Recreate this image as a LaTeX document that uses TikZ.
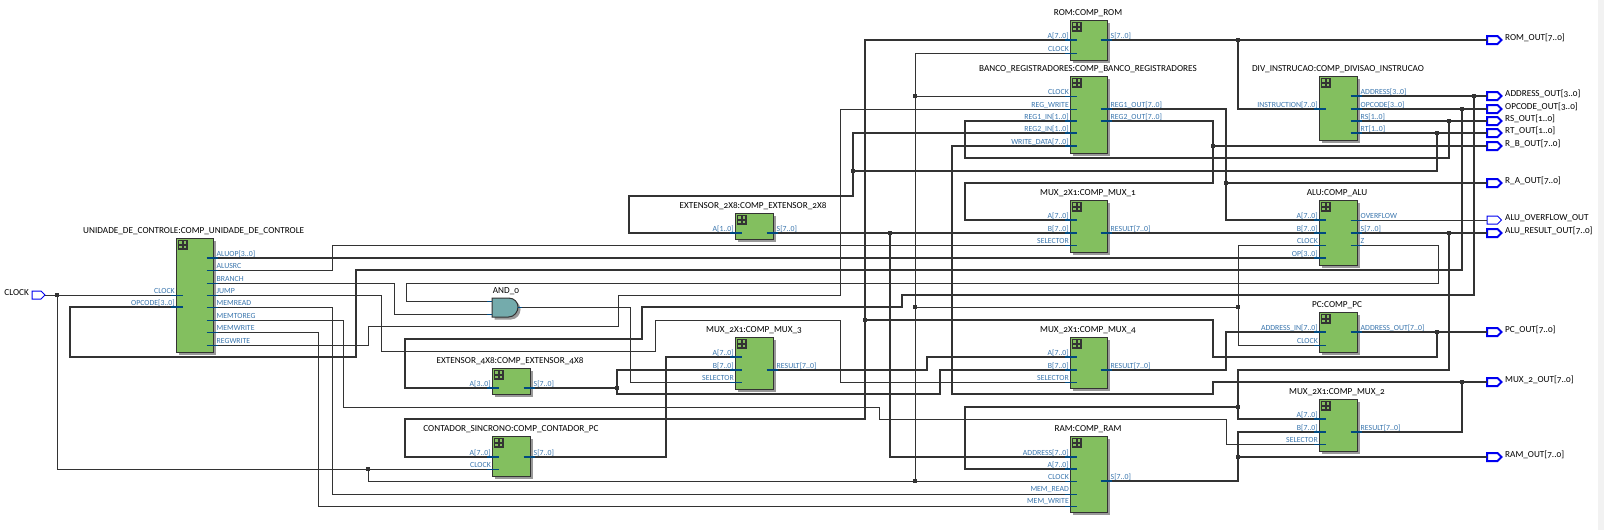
\documentclass[tikz,border=0pt]{standalone}
\usepackage{fontspec}
\setmainfont{Carlito}
\newfontfamily\ttlfont[Numbers=OldStyle]{Carlito}
\definecolor{wirec}{HTML}{333333}
\definecolor{blockg}{HTML}{83BF5F}
\definecolor{pinc}{HTML}{00497F}
\definecolor{labc}{HTML}{3A76AE}
\definecolor{iob}{HTML}{0000F0}
\definecolor{gatec}{HTML}{74ABAC}
\tikzset{
  wa/.style={draw=wirec,line width=1pt},
  wb/.style={draw=wirec,line width=2pt},
  pina/.style={draw=pinc,line width=1pt},
  pinb/.style={draw=pinc,line width=2pt},
  blockbox/.style={draw=wirec,line width=1pt,fill=blockg,inner sep=0pt,outer sep=0pt},
  shadowbox/.style={fill=black!40,draw=none},
  titlelab/.style={font=\ttlfont\fontsize{9.2}{10}\selectfont,text=black,inner sep=0pt},
  pinlab/.style={font=\fontsize{7.8}{9}\selectfont,text=labc,inner sep=0pt},
  dotj/.style={fill=wirec,draw=none,inner sep=0pt,minimum size=3.4pt,rectangle},
  dotk/.style={fill=wirec,draw=none,inner sep=0pt,minimum size=4.4pt,rectangle},
}
% name x0 y0 x1 y1 title tx ty
\newcommand{\blk}[8]{%
  \fill[shadowbox] (#2+2.5,#3+2.5) rectangle (#4+2.5,#5+2.5);
  \node[blockbox,minimum width={(#4-(#2))*1pt},minimum height={(#5-(#3))*1pt}] (#1) at ({(#2+#4)/2},{(#3+#5)/2}) {};
  \fill[wirec] (#2+2,#3+2) rectangle (#2+11.5,#3+11.5);
  \fill[blockg] (#2+3.2,#3+3.2) rectangle (#2+6,#3+6);
  \fill[blockg] (#2+7.5,#3+3.2) rectangle (#2+10.3,#3+6);
  \fill[blockg] (#2+3.2,#3+7.5) rectangle (#2+6,#3+10.3);
  \fill[blockg] (#2+7.5,#3+7.5) rectangle (#2+10.3,#3+10.3);
  \node[titlelab] (#1-t) at (#7,#8) {#6};
}
% style coord x0 y label : left pin
\newcommand{\lp}[5]{%
  \draw[#1] (#3-5,#4) -- (#3+6.5,#4);
  \coordinate (#2) at (#3-5,#4);
  \node[pinlab,anchor=east] (#2-l) at (#3-1,#4-4) {#5};
}
% right pin
\newcommand{\rp}[5]{%
  \draw[#1] (#3-6.5,#4) -- (#3+5,#4);
  \coordinate (#2) at (#3+5,#4);
  \node[pinlab,anchor=west] (#2-l) at (#3+3.5,#4-4) {#5};
}
% output port: style coord y label
\newcommand{\outp}[4]{%
  \draw[draw=iob,line width=#1,fill=white,line join=miter] (1487,#3-4) -- (1497.5,#3-4) -- (1501.5,#3) -- (1497.5,#3+4) -- (1487,#3+4) -- cycle;
  \coordinate (#2) at (1487,#3);
  \node[titlelab,anchor=west] (#2-l) at (1505,#3-2) {#4};
}
\begin{document}
\begin{tikzpicture}[x=1pt,y=-1pt]
\useasboundingbox (0,0) rectangle (1604,530);
\fill[white] (0,0) rectangle (1604,530);
\fill[black!5] (1598,0) rectangle (1604,530);

% ===== blocks =====
\blk{uc}{176}{238}{213}{352}{UNIDADE\_DE\_CONTROLE:COMP\_UNIDADE\_DE\_CONTROLE}{193.7}{231}
\lp{pina}{ucCLK}{176}{295}{CLOCK}
\lp{pinb}{ucOP}{176}{307}{OPCODE[3..0]}
\rp{pinb}{ucALUOP}{213}{258}{ALUOP[3..0]}
\rp{pina}{ucSRC}{213}{270}{ALUSRC}
\rp{pina}{ucBR}{213}{283}{BRANCH}
\rp{pina}{ucJ}{213}{295}{JUMP}
\rp{pina}{ucMR}{213}{307}{MEMREAD}
\rp{pina}{ucMT}{213}{320}{MEMTOREG}
\rp{pina}{ucMW}{213}{332}{MEMWRITE}
\rp{pina}{ucRW}{213}{345}{REGWRITE}

\blk{ext4}{492}{368}{530}{394}{EXTENSOR\_4X8:COMP\_EXTENSOR\_4X8}{510}{361}
\lp{pinb}{ext4A}{492}{388}{A[3..0]}
\rp{pinb}{ext4S}{530}{388}{S[7..0]}

\blk{cnt}{492}{436}{530}{476}{CONTADOR\_SINCRONO:COMP\_CONTADOR\_PC}{511}{429}
\lp{pinb}{cntA}{492}{457}{A[7..0]}
\lp{pina}{cntC}{492}{469}{CLOCK}
\rp{pinb}{cntS}{530}{457}{S[7..0]}

\blk{ext2}{735}{213}{773}{239}{EXTENSOR\_2X8:COMP\_EXTENSOR\_2X8}{753}{206}
\lp{pinb}{ext2A}{735}{233}{A[1..0]}
\rp{pinb}{ext2S}{773}{233}{S[7..0]}

\blk{mux3}{735}{337}{773}{389}{MUX\_2X1:COMP\_MUX\_3}{754}{330}
\lp{pinb}{m3A}{735}{357}{A[7..0]}
\lp{pinb}{m3B}{735}{370}{B[7..0]}
\lp{pina}{m3S}{735}{382}{SELECTOR}
\rp{pinb}{m3R}{773}{370}{RESULT[7..0]}

\blk{rom}{1070}{20}{1107}{60}{ROM:COMP\_ROM}{1088}{13}
\lp{pinb}{romA}{1070}{40}{A[7..0]}
\lp{pina}{romC}{1070}{53}{CLOCK}
\rp{pinb}{romS}{1107}{40}{S[7..0]}

\blk{banco}{1070}{76}{1107}{153}{BANCO\_REGISTRADORES:COMP\_BANCO\_REGISTRADORES}{1088}{69}
\lp{pina}{bC}{1070}{96}{CLOCK}
\lp{pina}{bW}{1070}{109}{REG\_WRITE}
\lp{pinb}{bR1}{1070}{121}{REG1\_IN[1..0]}
\lp{pinb}{bR2}{1070}{133}{REG2\_IN[1..0]}
\lp{pinb}{bD}{1070}{146}{WRITE\_DATA[7..0]}
\rp{pinb}{bO1}{1107}{109}{REG1\_OUT[7..0]}
\rp{pinb}{bO2}{1107}{121}{REG2\_OUT[7..0]}

\blk{mux1}{1070}{200}{1107}{252}{MUX\_2X1:COMP\_MUX\_1}{1088}{193}
\lp{pinb}{m1A}{1070}{220}{A[7..0]}
\lp{pinb}{m1B}{1070}{233}{B[7..0]}
\lp{pina}{m1S}{1070}{245}{SELECTOR}
\rp{pinb}{m1R}{1107}{233}{RESULT[7..0]}

\blk{mux4}{1070}{337}{1107}{388}{MUX\_2X1:COMP\_MUX\_4}{1088}{330}
\lp{pinb}{m4A}{1070}{357}{A[7..0]}
\lp{pinb}{m4B}{1070}{370}{B[7..0]}
\lp{pina}{m4S}{1070}{382}{SELECTOR}
\rp{pinb}{m4R}{1107}{370}{RESULT[7..0]}

\blk{ram}{1070}{436}{1107}{512}{RAM:COMP\_RAM}{1088}{429}
\lp{pinb}{rAD}{1070}{457}{ADDRESS[7..0]}
\lp{pinb}{rA}{1070}{469}{A[7..0]}
\lp{pina}{rC}{1070}{481}{CLOCK}
\lp{pina}{rMR}{1070}{494}{MEM\_READ}
\lp{pina}{rMW}{1070}{506}{MEM\_WRITE}
\rp{pinb}{rS}{1107}{481}{S[7..0]}

\blk{div}{1319}{76}{1357}{140}{DIV\_INSTRUCAO:COMP\_DIVISAO\_INSTRUCAO}{1338}{69}
\lp{pinb}{dI}{1319}{109}{INSTRUCTION[7..0]}
\rp{pinb}{dA}{1357}{96}{ADDRESS[3..0]}
\rp{pinb}{dO}{1357}{109}{OPCODE[3..0]}
\rp{pinb}{dRS}{1357}{121}{RS[1..0]}
\rp{pinb}{dRT}{1357}{133}{RT[1..0]}

\blk{alu}{1319}{200}{1357}{265}{ALU:COMP\_ALU}{1337}{193}
\lp{pinb}{aA}{1319}{220}{A[7..0]}
\lp{pinb}{aB}{1319}{233}{B[7..0]}
\lp{pina}{aC}{1319}{245}{CLOCK}
\lp{pinb}{aOP}{1319}{258}{OP[3..0]}
\rp{pina}{aOV}{1357}{220}{OVERFLOW}
\rp{pinb}{aS}{1357}{233}{S[7..0]}
\rp{pina}{aZ}{1357}{245}{Z}

\blk{pc}{1319}{312}{1357}{352}{PC:COMP\_PC}{1337}{305}
\lp{pinb}{pI}{1319}{332}{ADDRESS\_IN[7..0]}
\lp{pina}{pC}{1319}{345}{CLOCK}
\rp{pinb}{pO}{1357}{332}{ADDRESS\_OUT[7..0]}

\blk{mux2}{1319}{399}{1357}{451}{MUX\_2X1:COMP\_MUX\_2}{1337}{392}
\lp{pinb}{m2A}{1319}{419}{A[7..0]}
\lp{pinb}{m2B}{1319}{432}{B[7..0]}
\lp{pina}{m2S}{1319}{444}{SELECTOR}
\rp{pinb}{m2R}{1357}{432}{RESULT[7..0]}

% ===== AND gate =====
\fill[shadowbox] (494.5,300.5) -- (511,300.5) .. controls (517,300.5) and (520.5,305) .. (520.5,309.5) .. controls (520.5,314) and (517,319.5) .. (511,319.5) -- (494.5,319.5) -- cycle;
\draw[wirec,line width=1pt,fill=gatec] (492,298) -- (508.5,298) .. controls (514.5,298) and (518,302.5) .. (518,307) .. controls (518,311.5) and (514.5,317) .. (508.5,317) -- (492,317) -- cycle;
\node[titlelab] (and-t) at (506,291) {AND\_0};
\draw[pina] (487,301) -- (492,301);
\draw[pina] (487,314) -- (492,314);
\draw[pina] (518,307) -- (522,307);
\coordinate (andA) at (487,301);
\coordinate (andB) at (487,314);
\coordinate (andO) at (522,307);

% ===== ports =====
\draw[draw=iob,line width=1pt,fill=white] (32,291) -- (41,291) -- (45,295) -- (41,299) -- (32,299) -- cycle;
\coordinate (clkin) at (45,295);
\node[titlelab,anchor=east] (clk-l) at (29,293) {CLOCK};
\outp{2pt}{oROM}{40}{ROM\_OUT[7..0]}
\outp{2pt}{oADR}{96}{ADDRESS\_OUT[3..0]}
\outp{2pt}{oOP}{109}{OPCODE\_OUT[3..0]}
\outp{2pt}{oRS}{121}{RS\_OUT[1..0]}
\outp{2pt}{oRT}{133}{RT\_OUT[1..0]}
\outp{2pt}{oRB}{146}{R\_B\_OUT[7..0]}
\outp{2pt}{oRA}{183}{R\_A\_OUT[7..0]}
\outp{1pt}{oOV}{220}{ALU\_OVERFLOW\_OUT}
\outp{2pt}{oAR}{233}{ALU\_RESULT\_OUT[7..0]}
\outp{2pt}{oPC}{332}{PC\_OUT[7..0]}
\outp{2pt}{oM2}{382}{MUX\_2\_OUT[7..0]}
\outp{2pt}{oRAM}{457}{RAM\_OUT[7..0]}

% ===== thin wires =====
\draw[wa] (clkin) -- (ucCLK);
\node[dotj] (j1) at (57,295) {};
\draw[wa] (j1) -- (57,469) -- (cntC);
\node[dotj] (j2) at (368,469) {};
\draw[wa] (j2) -- (368,481) -- (rC);
\node[dotj] (j3) at (915,481) {};
\draw[wa] (j3) -- (915,53) -- (romC);
\node[dotj] (j4) at (915,96) {};
\draw[wa] (j4) -- (bC);
\node[dotj] (j5) at (915,307) {};
\node[dotj] (j6) at (1238,307) {};
\draw[wa] (j5) -- (j6);
\draw[wa] (aC) -- (1238,245) -- (1238,345) -- (pC);
\draw[wa] (ucSRC) -- (332,270) -- (332,245) -- (m1S);
\draw[wa] (ucBR) -- (394,283) -- (394,314) -- (andB);
\draw[wa] (aZ) -- (1438,245) -- (1438,283) -- (406,283) -- (406,301) -- (andA);
\draw[wa] (ucJ) -- (381,295) -- (381,351) -- (655,351) -- (655,320) -- (840,320) -- (840,382) -- (m4S);
\draw[wa] (ucMR) -- (332,307) -- (332,494) -- (rMR);
\draw[wa] (ucMT) -- (343,320) -- (343,407) -- (879,407) -- (879,419) -- (1226,419) -- (1226,444) -- (m2S);
\draw[wa] (ucMW) -- (318,332) -- (318,506) -- (rMW);
\draw[wa] (ucRW) -- (368,345) -- (368,326) -- (618,326) -- (618,295) -- (840,295) -- (840,109) -- (bW);
\draw[wa] (andO) -- (630,307) -- (630,382) -- (m3S);
\draw[wa] (aOV) -- (oOV);

% ===== bus wires =====
\draw[wb] (ucALUOP) -- (aOP);
\draw[wb] (dO) -- (oOP);
\node[dotk] (k1) at (1462,109) {};
\draw[wb] (ucOP) -- (70,307) -- (70,357) -- (356,357) -- (356,270) -- (1462,270) -- (k1);
\draw[wb] (dA) -- (oADR);
\node[dotk] (k2) at (1474,96) {};
\draw[wb] (k2) -- (1474,295) -- (902,295) -- (902,307) -- (642,307) -- (642,339) -- (405,339) -- (405,388) -- (ext4A);
\node[dotk] (k3) at (617,388) {};
\draw[wb] (ext4S) -- (k3);
\draw[wb] (k3) -- (617,370) -- (m3B);
\draw[wb] (k3) -- (617,394) -- (940,394) -- (940,370) -- (m4B);
\draw[wb] (m3R) -- (927,370) -- (927,357) -- (m4A);
\draw[wb] (cntS) -- (666,457) -- (666,357) -- (m3A);
\draw[wb] (pO) -- (oPC);
\node[dotk] (k4) at (1437,332) {};
\node[dotk] (k5) at (865,320) {};
\draw[wb] (k4) -- (1437,357) -- (1213,357) -- (1213,320) -- (k5);
\draw[wb] (romA) -- (865,40) -- (865,419) -- (405,419) -- (405,457) -- (cntA);
\draw[wb] (m4R) -- (1226,370) -- (1226,332) -- (pI);
\draw[wb] (romS) -- (oROM);
\node[dotk] (k6) at (1238,40) {};
\draw[wb] (k6) -- (1238,109) -- (dI);
\draw[wb] (bO1) -- (1226,109) -- (1226,220) -- (aA);
\node[dotk] (k7) at (1226,183) {};
\draw[wb] (k7) -- (oRA);
\draw[wb] (bO2) -- (1213,121) -- (1213,183) -- (965,183) -- (965,220) -- (m1A);
\node[dotk] (k8) at (1213,146) {};
\draw[wb] (k8) -- (oRB);
\draw[wb] (dRS) -- (oRS);
\node[dotk] (k9) at (1449,121) {};
\draw[wb] (k9) -- (1449,158) -- (965,158) -- (965,121) -- (bR1);
\draw[wb] (dRT) -- (oRT);
\node[dotk] (k10) at (1437,133) {};
\node[dotk] (k11) at (853,171) {};
\draw[wb] (k10) -- (1437,171) -- (k11);
\draw[wb] (k11) -- (853,133) -- (bR2);
\draw[wb] (k11) -- (853,196) -- (629,196) -- (629,233) -- (ext2A);
\node[dotk] (k12) at (890,233) {};
\draw[wb] (ext2S) -- (m1B);
\draw[wb] (k12) -- (890,457) -- (rAD);
\draw[wb] (m1R) -- (aB);
\draw[wb] (aS) -- (oAR);
\node[dotk] (k13) at (1449,233) {};
\draw[wb] (k13) -- (1449,370) -- (1238,370) -- (1238,419) -- (m2A);
\node[dotk] (k14) at (1238,407) {};
\draw[wb] (k14) -- (965,407) -- (965,469) -- (rA);
\draw[wb] (rS) -- (1238,481) -- (1238,432) -- (m2B);
\node[dotk] (k15) at (1238,457) {};
\draw[wb] (k15) -- (oRAM);
\node[dotk] (k16) at (1462,382) {};
\draw[wb] (m2R) -- (1462,432) -- (k16);
\draw[wb] (oM2) -- (1213,382) -- (1213,394) -- (952,394) -- (952,146) -- (bD);
\end{tikzpicture}
\end{document}
